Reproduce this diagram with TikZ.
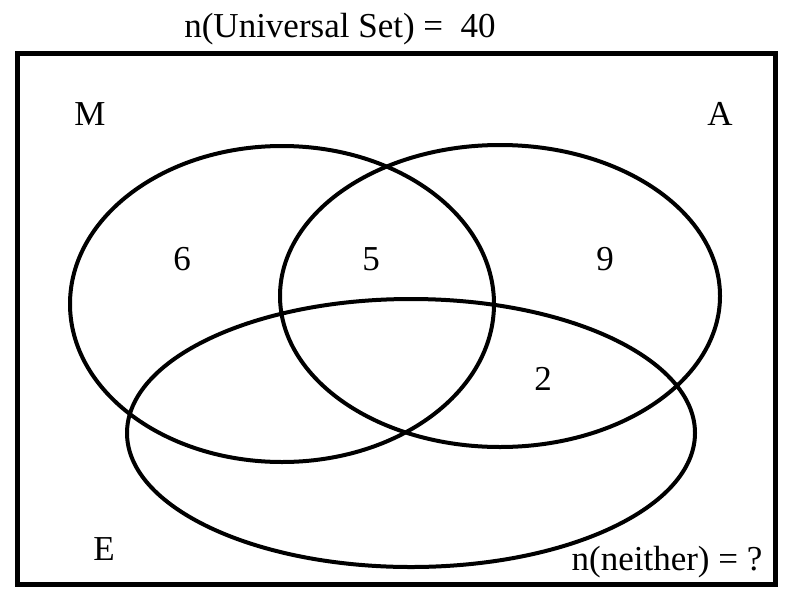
\documentclass[tikz,border=0pt]{standalone}
\usepackage{fontspec}
\setmainfont{Liberation Serif}
\begin{document}
\begin{tikzpicture}[x=1pt,y=-1pt,
  setline/.style={draw=black,line width=4pt},
  lbl/.style={font=\fontsize{35}{41}\selectfont,inner sep=0pt,anchor=base},
]
  \useasboundingbox (0,0) rectangle (794,608);

  % universal set
  \draw[line width=5pt] (17.5,53.5) rectangle (775,584.5);
  \node[lbl] (total) at (340,37) {n(Universal Set) =\ \ 40};

  % the three sets
  \draw[setline] (282,304) ellipse [x radius=212,y radius=158];
  \draw[setline] (500,296) ellipse [x radius=220,y radius=151];
  \draw[setline] (411,433) ellipse [x radius=284,y radius=134];

  % set names
  \node[lbl] (nameM) at (90,125) {M};
  \node[lbl] (nameA) at (720,125) {A};
  \node[lbl] (nameE) at (104,560) {E};

  % region counts
  \node[lbl] (onlyM) at (182,270) {6};
  \node[lbl] (MandA) at (371,270) {5};
  \node[lbl] (onlyA) at (605,270) {9};
  \node[lbl] (AandE) at (543,390) {2};
  \node[lbl] (neither) at (667,570) {n(neither) = ?};
\end{tikzpicture}
\end{document}
